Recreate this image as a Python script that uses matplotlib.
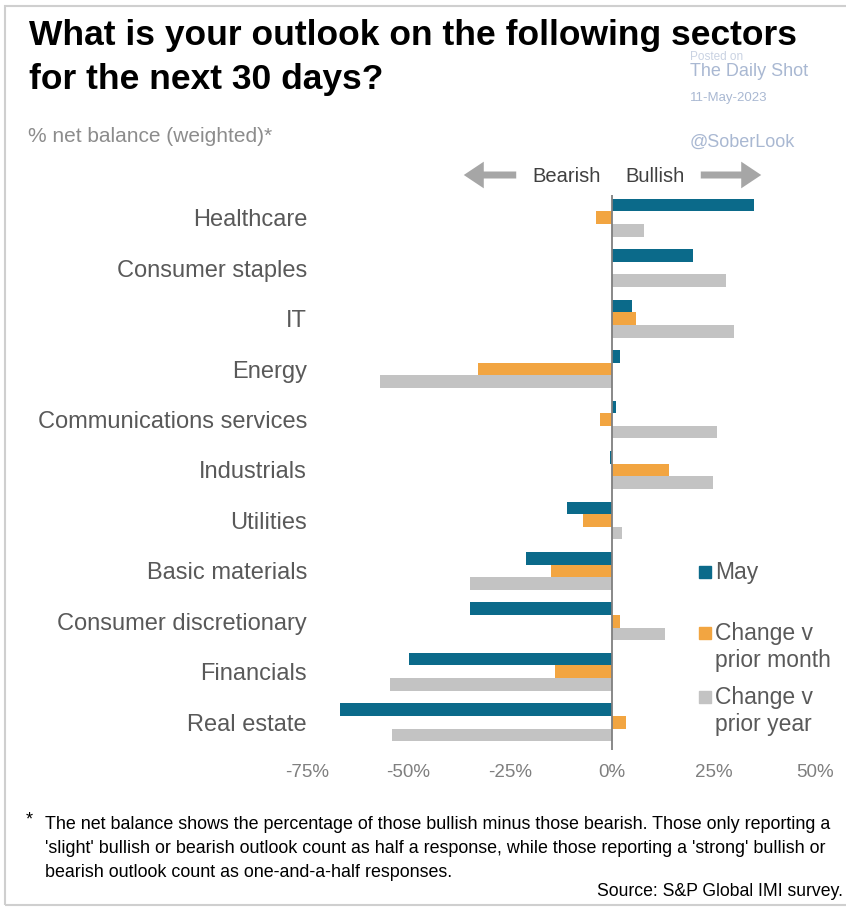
import matplotlib
matplotlib.use('Agg')
import matplotlib.pyplot as plt
from matplotlib.patches import Rectangle, FancyArrowPatch
import numpy as np

plt.rcParams['font.family'] = ['Liberation Sans', 'DejaVu Sans']

W, H = 846, 909

sectors = ['Healthcare', 'Consumer staples', 'IT', 'Energy', 'Communications services',
           'Industrials', 'Utilities', 'Basic materials', 'Consumer discretionary',
           'Financials', 'Real estate']
may = [35, 20, 5, 2, 1, -0.5, -11, -21, -35, -50, -67]
chg_month = [-4, 0, 6, -33, -3, 14, -7, -15, 2, -14, 3.5]
chg_year = [8, 28, 30, -57, 26, 25, 2.5, -35, 13, -54.5, -54]
series_names = ['May', 'Change v\nprior month', 'Change v\nprior year']
colors = ['#0b6a8a', '#f2a541', '#c3c3c3']
x_ticks = [-75, -50, -25, 0, 25, 50]


def fx(x):
    return x / W


def fy(y):
    return 1 - y / H


fig = plt.figure(figsize=(W / 100, H / 100), dpi=100)
ax = fig.add_axes([fx(307), fy(750), (815 - 307) / W, (750 - 195) / H])

y = np.arange(len(sectors))
h = 0.25
for i, vals in enumerate([may, chg_month, chg_year]):
    ax.barh(y + (i - 1) * h, vals, height=h, color=colors[i], zorder=2)

ax.axvline(0, color='#7f7f7f', lw=1.3, zorder=3)
ax.set_xlim(-75, 50)
ax.set_ylim(len(sectors) - 1 + 0.55, -0.45)
ax.set_yticks(y)
ax.set_yticklabels(sectors, fontsize=17, color='#595959')
ax.set_xticks(x_ticks)
ax.set_xticklabels([f'{t}%' for t in x_ticks], fontsize=13.5, color='#7f7f7f')
ax.tick_params(axis='y', length=0, pad=0)
ax.tick_params(axis='x', length=0, pad=10)
for s in ax.spines.values():
    s.set_visible(False)

# legend drawn by hand to match the layout
leg_y = [572, 633, 697]
for i, name in enumerate(series_names):
    fig.add_artist(Rectangle((fx(699), fy(leg_y[i] + 6)), 12 / W, 12 / H,
                             color=colors[i], transform=fig.transFigure))
    fig.text(fx(715), fy(leg_y[i] - 11), name, fontsize=16.5, color='#595959',
             va='top', ha='left', linespacing=1.25)

# watermark
wm = '#a9b8d2'
fig.text(fx(690), fy(57), 'Posted on', fontsize=8.5, color='#c9d2e2', va='center')
fig.text(fx(690), fy(71), 'The Daily Shot', fontsize=13, color=wm, va='center')
fig.text(fx(690), fy(98), '11-May-2023', fontsize=9.5, color=wm, va='center')
fig.text(fx(690), fy(142), '@SoberLook', fontsize=13, color=wm, va='center')

# title and subtitle
fig.text(fx(29), fy(35), 'What is your outlook on the following sectors',
         fontsize=25.5, fontweight='bold', color='black', va='center')
fig.text(fx(29), fy(79), 'for the next 30 days?',
         fontsize=25.5, fontweight='bold', color='black', va='center')
fig.text(fx(28), fy(137), '% net balance (weighted)*', fontsize=15,
         color='#8c8c8c', va='center')

# bearish / bullish arrows
fig.text(fx(567), fy(176), 'Bearish', fontsize=14.5, color='#404040',
         ha='center', va='center')
fig.text(fx(655), fy(176), 'Bullish', fontsize=14.5, color='#404040',
         ha='center', va='center')
arrow_style = 'simple,head_length=1.2,head_width=1.6,tail_width=0.42'
fig.add_artist(FancyArrowPatch(
    (fx(519), fy(175)), (fx(461), fy(175)), transform=fig.transFigure,
    arrowstyle=arrow_style, mutation_scale=12, color='#a6a6a6', lw=0))
fig.add_artist(FancyArrowPatch(
    (fx(698), fy(175)), (fx(764), fy(175)), transform=fig.transFigure,
    arrowstyle=arrow_style, mutation_scale=12, color='#a6a6a6', lw=0))

# footnote
fig.text(fx(26), fy(820), '*', fontsize=13, color='black', va='center')
foot = ("The net balance shows the percentage of those bullish minus those bearish. Those only reporting a\n"
        "'slight' bullish or bearish outlook count as half a response, while those reporting a 'strong' bullish or\n"
        "bearish outlook count as one-and-a-half responses.")
fig.text(fx(45), fy(816), foot, fontsize=12.9, color='black', va='top', linespacing=1.52)
fig.text(fx(843), fy(892), 'Source: S&P Global IMI survey.', fontsize=12.7,
         color='black', ha='right', va='center')

# frame around the whole graphic
fig.add_artist(Rectangle((fx(5), fy(905)), (860 - 5) / W, (905 - 6) / H,
                         fill=False, edgecolor='#cfcfcf', lw=1.5,
                         transform=fig.transFigure))

fig.savefig('out.png', dpi=100)
